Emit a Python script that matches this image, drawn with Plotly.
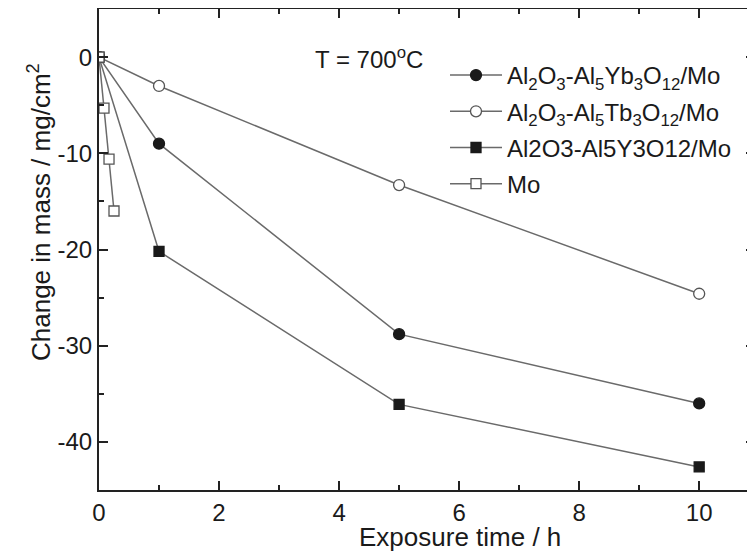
import plotly.graph_objects as go

# Data
t_yb = [0, 1, 5, 10]
m_yb = [0, -9.0, -28.8, -36.0]

t_tb = [0, 1, 5, 10]
m_tb = [0, -3.0, -13.3, -24.6]

t_y = [0, 1, 5, 10]
m_y = [0, -20.2, -36.1, -42.6]

t_mo = [0, 0.083, 0.167, 0.25]
m_mo = [0, -5.3, -10.6, -16.0]

names = [
    "Al<sub>2</sub>O<sub>3</sub>-Al<sub>5</sub>Yb<sub>3</sub>O<sub>12</sub>/Mo",
    "Al<sub>2</sub>O<sub>3</sub>-Al<sub>5</sub>Tb<sub>3</sub>O<sub>12</sub>/Mo",
    "Al2O3-Al5Y3O12/Mo",
    "Mo",
]

x_ticks = [0, 2, 4, 6, 8, 10]
y_ticks = [0, -10, -20, -30, -40]
y_ticktext = ["0", "-10", "-20", "-30", "-40"]

FONT = "Liberation Sans, Arial, sans-serif"
LINE_C = "#6a6a6a"
INK = "#1a1a1a"

# page body has an 8px margin, so the figure is sized/offset to compensate
W, H = 747, 544
ML, MT, MB, MR = 91, 1, 62, 0
PW, PH = W - ML - MR, H - MT - MB

fig = go.Figure()
specs = [
    (t_yb, m_yb, names[0], "circle", INK, INK, 11),
    (t_tb, m_tb, names[1], "circle", "white", "#555555", 11),
    (t_y, m_y, names[2], "square", INK, INK, 10),
    (t_mo, m_mo, names[3], "square", "white", "#555555", 10),
]
for i, (x, y, nm, sym, fill, edge, sz) in enumerate(specs):
    fig.add_trace(go.Scatter(
        x=x, y=y, name=nm, mode="lines+markers",
        line=dict(color=LINE_C, width=1.5),
        marker=dict(symbol=sym, size=sz, color=fill, line=dict(color=edge, width=1.3)),
        legendgroup=str(i),
    ))

# invisible trace to provide right-side mirror ticks without a spine
fig.add_trace(go.Scatter(x=[0], y=[0], yaxis="y2", showlegend=False,
                         mode="markers", marker=dict(opacity=0), hoverinfo="skip"))

axis_common = dict(
    showgrid=False, zeroline=False, ticks="inside",
    tickfont=dict(family=FONT, size=24, color=INK),
    linecolor="#222222", linewidth=2, tickcolor="#222222", tickwidth=1.5,
)

fig.update_layout(
    width=W, height=H,
    margin=dict(l=ML, r=MR, t=MT, b=MB, autoexpand=False),
    paper_bgcolor="white", plot_bgcolor="white",
    font=dict(family=FONT, size=24, color=INK),
    xaxis=dict(
        range=[0, 10.93], tickvals=x_ticks, ticklen=9, showline=True, mirror="ticks",
        minor=dict(dtick=1, tick0=0, ticks="inside", ticklen=5, tickcolor="#222222", tickwidth=1.5),
        **axis_common,
    ),
    yaxis=dict(
        range=[-45, 5], tickvals=y_ticks, ticktext=y_ticktext, ticklen=9, showline=True, mirror=False,
        minor=dict(dtick=5, tick0=0, ticks="inside", ticklen=5, tickcolor="#222222", tickwidth=1.5),
        **axis_common,
    ),
    yaxis2=dict(
        range=[-45, 5], tickvals=y_ticks, ticklen=9, overlaying="y", side="right",
        showline=False, showticklabels=False, showgrid=False, zeroline=False,
        ticks="inside", tickcolor="#222222", tickwidth=1.5,
        minor=dict(dtick=5, tick0=0, ticks="inside", ticklen=5, tickcolor="#222222", tickwidth=1.5),
    ),
    legend=dict(
        x=(437 - ML) / PW, y=1 - 44 / PH, xanchor="left", yanchor="top",
        bgcolor="rgba(0,0,0,0)", borderwidth=0,
        font=dict(family=FONT, size=24, color=INK),
        tracegroupgap=2, itemwidth=52,
    ),
    showlegend=True,
)

# axis titles as annotations (positioned like the reference)
fig.add_annotation(
    text="Exposure time / h", xref="paper", yref="paper",
    x=(452 - ML) / PW, y=-(529 - MT - PH) / PH, xanchor="center", yanchor="middle",
    showarrow=False, font=dict(family=FONT, size=26, color=INK),
)
fig.add_annotation(
    text="Change in mass / mg/cm<sup>2</sup>", xref="paper", yref="paper", textangle=-90,
    x=(31 - ML) / PW, y=1 - (204 - MT) / PH, xanchor="center", yanchor="middle",
    showarrow=False, font=dict(family=FONT, size=26, color=INK),
)
fig.add_annotation(
    text="T = 700<sup>o</sup>C", xref="paper", yref="paper",
    x=(305 - ML) / PW, y=1 - (50 - MT) / PH, xanchor="left", yanchor="middle",
    showarrow=False, font=dict(family=FONT, size=24, color=INK),
)

fig.write_html("out.html")
